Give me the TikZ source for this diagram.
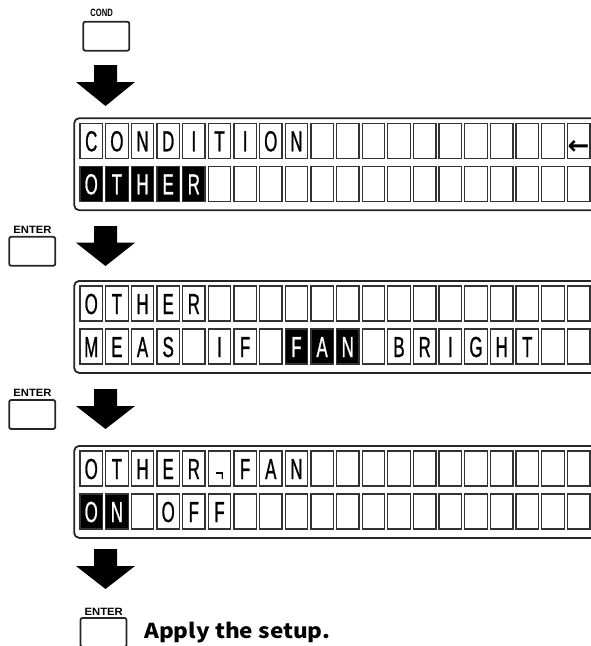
\documentclass[tikz,border=0pt]{standalone}
\usepackage{fontspec}
\newfontfamily\lcdfont[FakeStretch=0.58,FakeBold=0.8]{Liberation Sans}
\newfontfamily\keyfont{Liberation Sans}
\newfontfamily\symfont{DejaVu Sans}
\newfontfamily\jpfont{Noto Sans CJK JP}
\newcommand\lcdrow[5]{%
  \foreach \ch [count=\i from 0] in {#3} {%
    \def\fc{white}\def\tc{black}%
    \ifnum\i<#4\relax\else\ifnum\i>#5\relax\else\def\fc{black}\def\tc{white}\fi\fi
    \node[lcdcell, fill=\fc, text=\tc] (#1-\i) at ({91.25+25.65*\i}, #2) {\ch};
  }%
}
\newcommand\blockarrow[3]{%
  \fill[black] (94,#1) -- (117,#1) -- (117,#2) -- (135,#2) -- (105.5,#3) -- (76,#2) -- (94,#2) -- cycle;
}
\begin{document}
\begin{tikzpicture}[x=1pt,y=-1pt,
  lcdcell/.style={draw=black!80, line width=1.3pt, minimum width=22.5pt, minimum height=35pt,
    inner sep=0pt, text height=21pt, text depth=0pt, font=\lcdfont\fontsize{29}{29}\selectfont},
  panel/.style={draw=black!85, line width=1.8pt, rounded corners=5pt, anchor=north west,
    minimum width=560pt, minimum height=92pt, inner sep=0pt},
  keybtn/.style={draw=black!85, line width=1.8pt, rounded corners=2pt, minimum width=46pt,
    minimum height=29pt, inner sep=0pt},
  keylabel/.style={font=\keyfont\bfseries\fontsize{10.6}{10.6}\selectfont, inner sep=0pt},
]
\useasboundingbox (0,0) rectangle (590,646);

% COND key
\node[keylabel] (condlbl) at (101.7,13.3) {\scalebox{0.72}[1]{COND}};
\node[keybtn] (cond) at (106.3,36.2) {};
\blockarrow{65}{82}{106}

% Panel 1
\node[panel] (panel1) at (73.3,117.3) {};
\lcdrow{pa}{140.8}{C,O,N,D,I,T,I,O,N,{},{},{},{},{},{},{},{},{},{},{\symfont\bfseries\fontsize{26}{26}\selectfont\raisebox{-3pt}{←}}}{99}{-1}
\lcdrow{pb}{183.8}{O,T,H,E,R,{},{},{},{},{},{},{},{},{},{},{},{},{},{},{}}{0}{4}

% ENTER 1
\node[keylabel] (ent1lbl) at (32.5,229.5) {\scalebox{1.06}[1]{ENTER}};
\node[keybtn] (ent1) at (32.2,251.3) {};
\blockarrow{226}{242.7}{266}

% Panel 2
\node[panel] (panel2) at (73.3,280) {};
\lcdrow{pc}{303.5}{O,T,H,E,R,{},{},{},{},{},{},{},{},{},{},{},{},{},{},{}}{99}{-1}
\lcdrow{pd}{346.5}{M,E,A,S,{},I,F,{},F,A,N,{},B,R,I,G,H,T,{},{}}{8}{10}

% ENTER 2
\node[keylabel] (ent2lbl) at (32.5,393) {\scalebox{1.06}[1]{ENTER}};
\node[keybtn] (ent2) at (32.2,414.5) {};
\blockarrow{389}{406}{429}

% Panel 3
\node[panel] (panel3) at (73.3,445) {};
\lcdrow{pe}{468.5}{O,T,H,E,R,{\fontsize{24}{24}\selectfont\raisebox{-2pt}{¬}},F,A,N,{},{},{},{},{},{},{},{},{},{},{}}{99}{-1}
\lcdrow{pf}{511.5}{O,N,{},O,F,F,{},{},{},{},{},{},{},{},{},{},{},{},{},{}}{0}{1}

\blockarrow{549}{566}{589}

% ENTER 3
\node[keylabel] (ent3lbl) at (103.7,612) {\scalebox{1.06}[1]{ENTER}};
\node[keybtn] (ent3) at (103.5,632.5) {};
\node[anchor=base west, inner sep=0pt, font=\jpfont\bfseries\fontsize{20.5}{20.5}\selectfont] (apply) at (144,638) {\scalebox{1.1}[1]{Apply the setup.}};
\end{tikzpicture}
\end{document}
